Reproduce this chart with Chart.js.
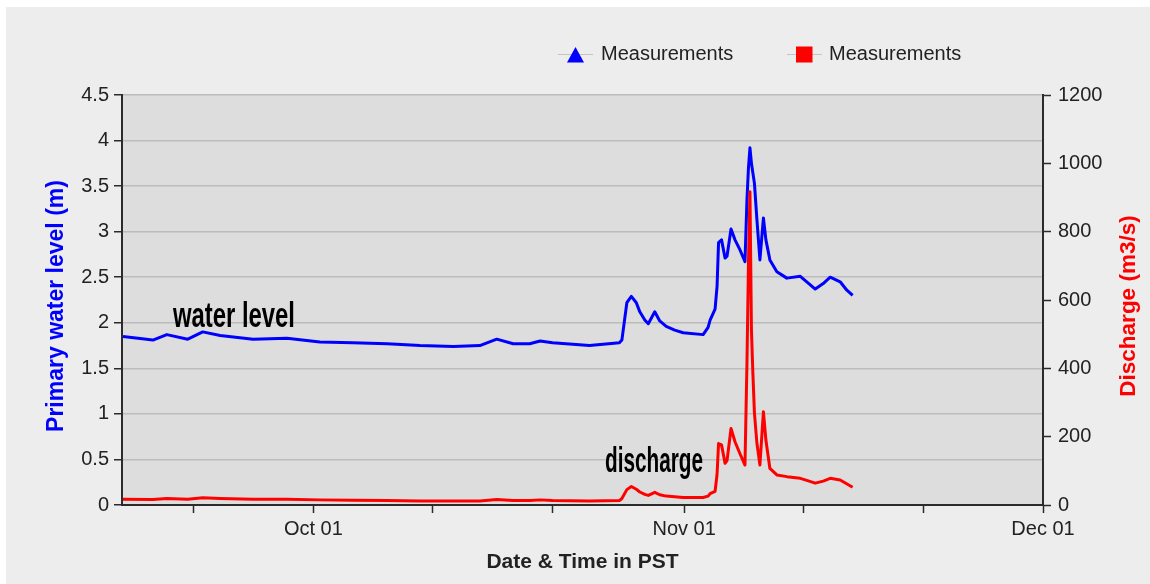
<!DOCTYPE html>
<html>
<head>
<meta charset="utf-8">
<title>Primary water level / Discharge</title>
<script src="https://cdn.jsdelivr.net/npm/chart.js@4.4.1/dist/chart.umd.min.js"></script>
<style>
  html, body { margin: 0; padding: 0; background: #fff; }
  canvas { display: block; }
</style>
</head>
<body>
<canvas id="chart" width="1150" height="584"></canvas>
<script>
// 観測時刻 (MM-DD HH:mm, PST)
const times = [
    '09-15 02:00', '09-17 14:00', '09-18 18:00', '09-20 12:00', '09-21 18:00', '09-23 05:00', '09-25 23:00', '09-28 19:00',
    '10-01 13:00', '10-04 07:00', '10-07 04:00', '10-09 22:00', '10-12 17:00', '10-14 22:00', '10-16 08:00', '10-17 17:00',
    '10-19 02:00', '10-19 23:00', '10-21 00:00', '10-24 02:00', '10-26 14:00', '10-26 19:00', '10-27 05:00', '10-27 14:00',
    '10-28 00:00', '10-28 07:00', '10-28 17:00', '10-29 00:00', '10-29 13:00', '10-29 23:00', '10-30 12:00', '10-31 05:00',
    '10-31 22:00', '11-02 14:00', '11-03 00:00', '11-03 04:00', '11-03 14:00', '11-03 18:00', '11-03 21:00',
    '11-04 03:00', '11-04 10:00', '11-04 14:00', '11-04 22:00', '11-05 06:00', '11-05 16:00', '11-06 02:00', '11-06 06:00',
    '11-06 09:00', '11-06 12:00', '11-06 15:00', '11-06 18:00', '11-06 21:00', '11-07 02:00', '11-07 08:00', '11-07 15:00',
    '11-07 20:00', '11-08 04:00', '11-08 18:00', '11-09 14:00', '11-10 17:00', '11-11 06:00', '11-11 23:00', '11-12 15:00',
    '11-13 05:00', '11-14 01:00', '11-14 14:00', '11-15 02:00'
];
// 水位 (m)
const waterLevel = [
    1.85, 1.81, 1.87, 1.82, 1.90, 1.86, 1.82, 1.83,
    1.79, 1.78, 1.77, 1.75, 1.74, 1.75, 1.82, 1.77,
    1.77, 1.80, 1.78, 1.75, 1.78, 1.81, 2.22, 2.29,
    2.22, 2.12, 2.03, 1.99, 2.12, 2.02, 1.96, 1.92,
    1.89, 1.87, 1.95, 2.03, 2.15, 2.40, 2.88,
    2.91, 2.71, 2.73, 3.03, 2.91, 2.80, 2.67, 3.35,
    3.70, 3.92, 3.75, 3.64, 3.53, 3.13, 2.69, 3.15,
    2.91, 2.69, 2.56, 2.49, 2.51, 2.45, 2.37, 2.43,
    2.50, 2.45, 2.36, 2.30
];
// 流量 (m3/s)
const discharge = [
    17, 16, 19, 17, 21, 19, 17, 17,
    15, 14, 13, 12, 12, 12, 16, 13,
    13, 15, 13, 12, 13, 19, 45, 54,
    46, 38, 31, 28, 37, 30, 26, 24,
    22, 22, 26, 33, 40, 90, 180,
    176, 122, 130, 224, 185, 150, 117, 415,
    708, 917, 512, 380, 269, 180, 117, 273,
    190, 107, 88, 83, 78, 72, 64, 70,
    78, 73, 62, 52
];
const xTickDates = ['09-21', '10-01', '10-11', '10-21', '11-01', '11-11', '11-21', '12-01'];
const xTickLabels = ['', 'Oct 01', '', '', 'Nov 01', '', '', 'Dec 01'];
const xStart = '09-15';
const xEnd = '12-01';
const levelMax = 4.5, levelStep = 0.5;
const dischargeMax = 1200, dischargeStep = 200;

// 9/15 0:00 からの日数
const monthStart = { 9: -14, 10: 16, 11: 47, 12: 77 };
function toDay(s) {
    const [md, hm = '00:00'] = s.split(' ');
    const [m, d] = md.split('-').map(Number);
    const [h, mi] = hm.split(':').map(Number);
    return monthStart[m] + (d - 1) + (h + mi / 60) / 24;
}

const tickDays = xTickDates.map(toDay);
const FONT = "'Liberation Sans', Arial, sans-serif";
const AXIS = '#2b2b2b';

// 背景
const bgPlugin = {
    id: 'bg',
    beforeDraw(chart) {
        const { ctx, chartArea: a } = chart;
        ctx.save();
        ctx.fillStyle = '#ffffff';
        ctx.fillRect(0, 0, chart.width, chart.height);
        ctx.fillStyle = '#ededed';
        ctx.fillRect(6, 7, chart.width - 6, chart.height - 7);
        ctx.fillStyle = '#dddddd';
        ctx.fillRect(a.left, a.top, a.right - a.left, a.bottom - a.top);
        ctx.restore();
    }
};

function fittedText(ctx, text, x, baseline, width, font) {
    ctx.save();
    ctx.font = font;
    const w = ctx.measureText(text).width;
    ctx.translate(x, baseline);
    ctx.scale(width / w, 1);
    ctx.textAlign = 'left';
    ctx.textBaseline = 'alphabetic';
    ctx.fillText(text, 0, 0);
    ctx.restore();
}

function rotatedTitle(ctx, text, x, y, color, font) {
    ctx.save();
    ctx.translate(x, y);
    ctx.rotate(-Math.PI / 2);
    ctx.font = font;
    ctx.fillStyle = color;
    ctx.textAlign = 'center';
    ctx.textBaseline = 'middle';
    ctx.fillText(text, 0, 0);
    ctx.restore();
}

// 凡例・軸タイトル・注記
const overlayPlugin = {
    id: 'overlay',
    afterDraw(chart) {
        const ctx = chart.ctx;
        const a = chart.chartArea;
        ctx.save();

        // 凡例
        ctx.strokeStyle = '#c4c4c4';
        ctx.lineWidth = 1;
        ctx.beginPath();
        ctx.moveTo(558, 54.5); ctx.lineTo(593, 54.5);
        ctx.moveTo(787, 54.5); ctx.lineTo(822, 54.5);
        ctx.stroke();
        ctx.fillStyle = '#0000ff';
        ctx.beginPath();
        ctx.moveTo(575.5, 47); ctx.lineTo(584, 62.5); ctx.lineTo(567, 62.5);
        ctx.closePath();
        ctx.fill();
        ctx.fillStyle = '#ff0000';
        ctx.fillRect(796, 46.5, 16.5, 16);
        ctx.fillStyle = '#222';
        ctx.font = '20px ' + FONT;
        ctx.textAlign = 'left';
        ctx.textBaseline = 'middle';
        ctx.fillText('Measurements', 601, 54.5);
        ctx.fillText('Measurements', 829, 54.5);

        // 軸タイトル
        rotatedTitle(ctx, 'Primary water level (m)', 57, 306, '#0000ff', 'bold 23px ' + FONT);
        rotatedTitle(ctx, 'Discharge (m3/s)', 1129, 306, '#ff0000', 'bold 22.5px ' + FONT);
        ctx.fillStyle = '#222';
        ctx.font = 'bold 21px ' + FONT;
        ctx.textAlign = 'center';
        ctx.textBaseline = 'middle';
        ctx.fillText('Date & Time in PST', (a.left + a.right) / 2, 562);

        // 注記
        ctx.fillStyle = '#000';
        fittedText(ctx, 'water level', 173, 327, 122, 'bold 35px ' + FONT);
        fittedText(ctx, 'discharge', 605, 472, 98, 'bold 35px ' + FONT);
        ctx.restore();
    }
};

const tickFont = { family: FONT, size: 20 };

new Chart(document.getElementById('chart'), {
    type: 'line',
    data: {
        datasets: [
            {
                label: 'Measurements',
                data: times.map((t, i) => ({ x: toDay(t), y: waterLevel[i] })),
                borderColor: '#0000ff',
                borderWidth: 3,
                pointRadius: 0,
                tension: 0,
                borderJoinStyle: 'round',
                yAxisID: 'y',
                order: 1
            },
            {
                label: 'Measurements',
                data: times.map((t, i) => ({ x: toDay(t), y: discharge[i] })),
                borderColor: '#ff0000',
                borderWidth: 3,
                pointRadius: 0,
                tension: 0,
                borderJoinStyle: 'round',
                yAxisID: 'y1',
                order: 0
            }
        ]
    },
    options: {
        responsive: false,
        animation: false,
        devicePixelRatio: 1,
        layout: { padding: { left: 0, top: 95, right: 0, bottom: 0 } },
        plugins: {
            legend: { display: false },
            tooltip: { enabled: false }
        },
        scales: {
            x: {
                type: 'linear',
                min: toDay(xStart),
                max: toDay(xEnd),
                afterBuildTicks(scale) {
                    scale.ticks = tickDays.map(v => ({ value: v }));
                },
                afterFit(scale) { scale.height = 79; },
                ticks: {
                    autoSkip: false,
                    maxRotation: 0,
                    padding: 4,
                    color: '#222',
                    font: tickFont,
                    callback: (v, i) => xTickLabels[i]
                },
                grid: { drawOnChartArea: false, tickLength: 8, tickColor: AXIS, tickWidth: 1.5 },
                border: { color: AXIS, width: 2 }
            },
            y: {
                position: 'left',
                min: 0,
                max: levelMax,
                afterFit(scale) { scale.width = 122; },
                ticks: {
                    stepSize: levelStep,
                    padding: 5,
                    color: '#222',
                    font: tickFont,
                    callback: v => String(v)
                },
                grid: { color: '#bcbcbc', lineWidth: 1.5, tickLength: 8, tickColor: AXIS, tickWidth: 1.5 },
                border: { color: AXIS, width: 2 }
            },
            y1: {
                position: 'right',
                min: 0,
                max: dischargeMax,
                afterFit(scale) { scale.width = 107; },
                ticks: {
                    stepSize: dischargeStep,
                    padding: 7,
                    color: '#222',
                    font: tickFont,
                    callback: v => String(v)
                },
                grid: { drawOnChartArea: false, tickLength: 8, tickColor: AXIS, tickWidth: 1.5 },
                border: { color: AXIS, width: 2 }
            }
        }
    },
    plugins: [bgPlugin, overlayPlugin]
});
</script>
</body>
</html>
